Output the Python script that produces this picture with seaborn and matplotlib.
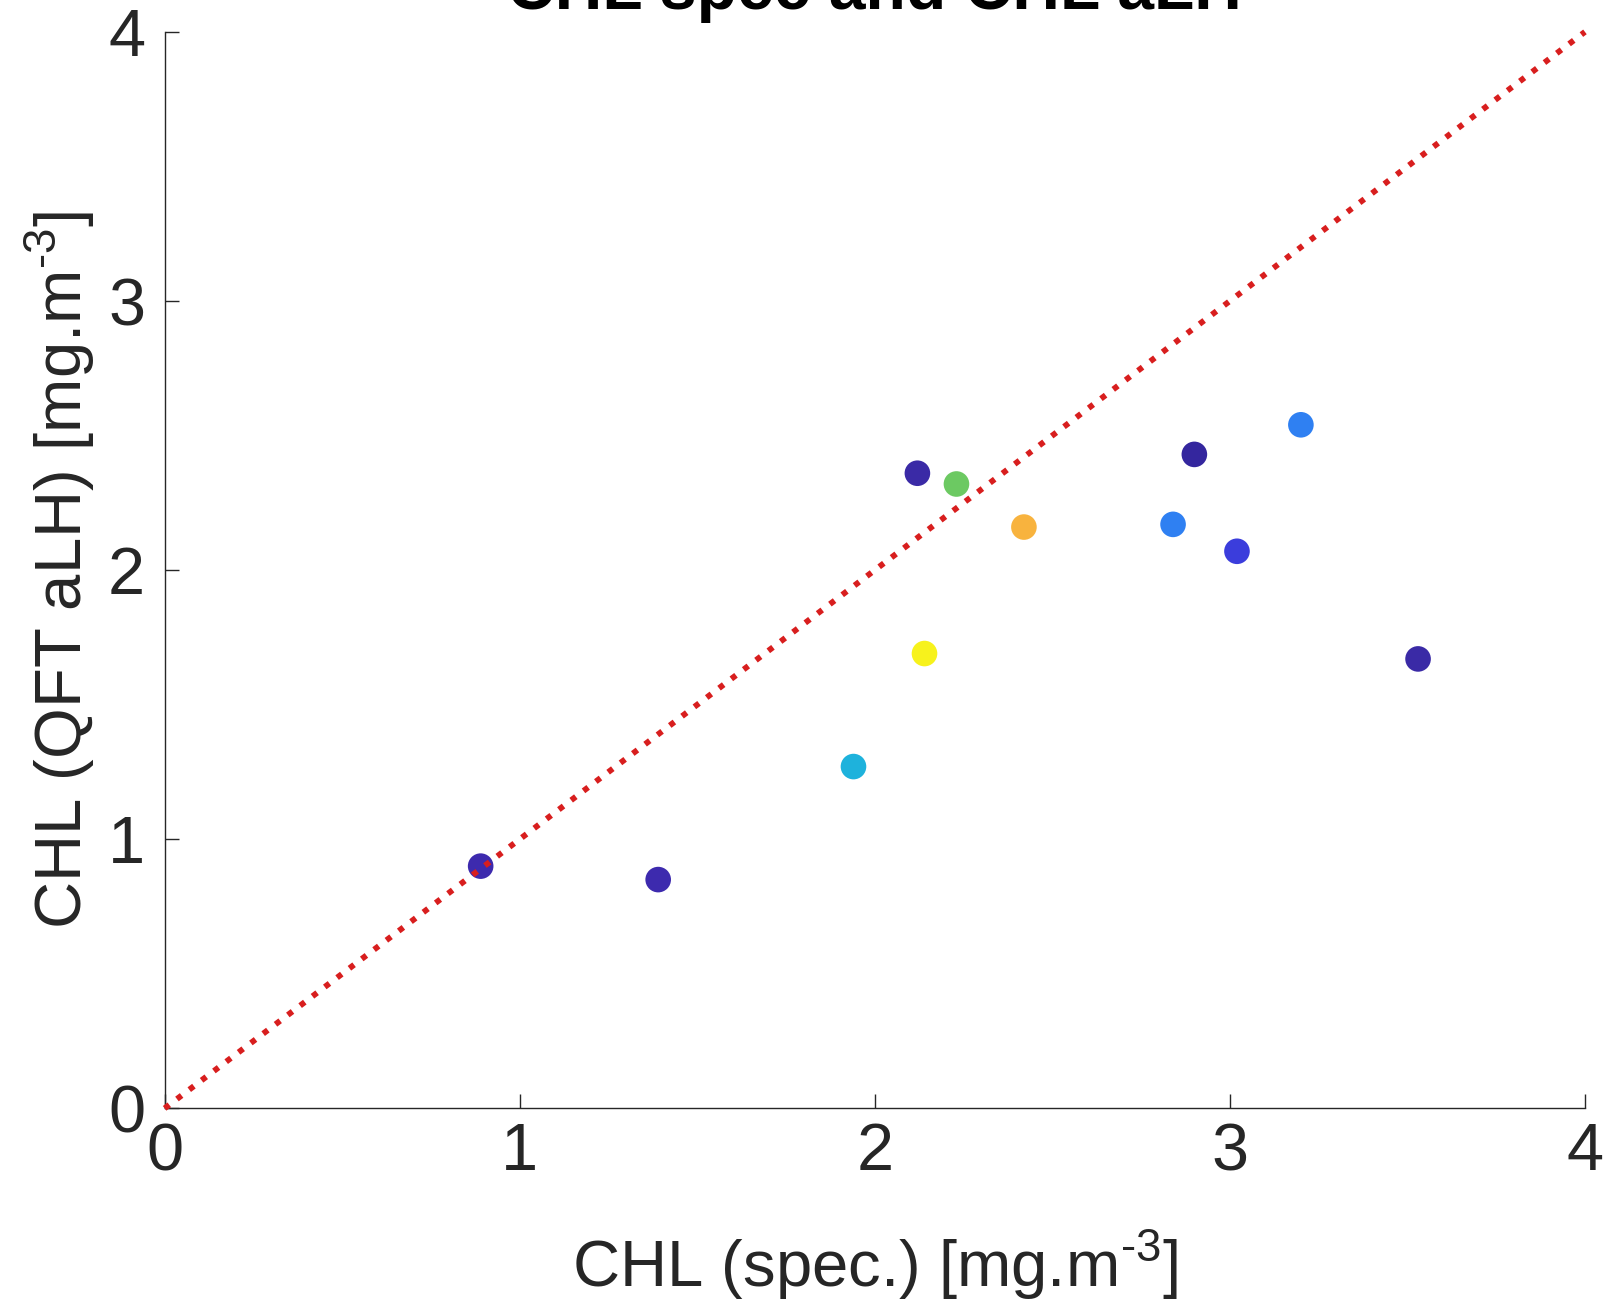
import matplotlib
matplotlib.use("Agg")
import matplotlib.pyplot as plt
import pandas as pd
import seaborn as sns

# CHL from spectrophotometry vs CHL from QFT aLH, mg.m-3
chl_spec = [0.89, 1.39, 1.94, 2.14, 2.12, 2.23, 2.42, 2.84, 2.90, 3.02, 3.20, 3.53]
chl_qft = [0.90, 0.85, 1.27, 1.69, 2.36, 2.32, 2.16, 2.17, 2.43, 2.07, 2.54, 1.67]
point_colors = [
    "#3d2aae", "#3d2aae", "#1eb2dc", "#f7f21c", "#3a2aa6", "#6cc962",
    "#f8b33e", "#2f80f2", "#34269e", "#3b3ddc", "#2f80f2", "#3a2aa6",
]
one_to_one = [0, 4]
ticks = [0, 1, 2, 3, 4]

df = pd.DataFrame({"spec": chl_spec, "qft": chl_qft, "pt": range(len(chl_spec))})

sns.set_style("ticks")
plt.rcParams["font.family"] = ["Liberation Sans", "DejaVu Sans"]
plt.rcParams["mathtext.fontset"] = "custom"
plt.rcParams["mathtext.rm"] = "Liberation Sans"

fig = plt.figure(figsize=(16.14, 13.07), dpi=100)
ax = fig.add_axes([0.102, 0.152, 0.880, 0.8236])

sns.scatterplot(
    data=df, x="spec", y="qft", hue="pt", palette=point_colors,
    s=340, linewidth=0, legend=False, ax=ax, zorder=2,
)
ax.plot(one_to_one, one_to_one, linestyle=":", color="#d81e1e", linewidth=4.2,
        zorder=3, clip_on=False)

ax.set_xlim(0, 4)
ax.set_ylim(0, 4)
ax.set_xticks(ticks)
ax.set_yticks(ticks)
ax.tick_params(direction="in", length=10, width=1.0, colors="#262626",
               labelsize=48, pad=10)
ax.tick_params(axis="y", pad=14)
sns.despine(ax=ax)
for side in ["left", "bottom"]:
    ax.spines[side].set_color("#262626")
    ax.spines[side].set_linewidth(1.0)

ax.set_xlabel("CHL (spec.) [mg.m$^{\\mathregular{\u20103}}$]", fontsize=47,
              color="#262626", labelpad=31)
ax.set_ylabel("CHL (QFT aLH) [mg.m$^{\\mathregular{\u20103}}$]", fontsize=47,
              color="#262626", labelpad=8)

fig.text(0.542, 1 - 9 / 1307, "CHL spec and CHL aLH", ha="center",
         va="baseline", fontsize=47.5, fontweight="bold", color="black")

fig.savefig("out.png", dpi=100)
